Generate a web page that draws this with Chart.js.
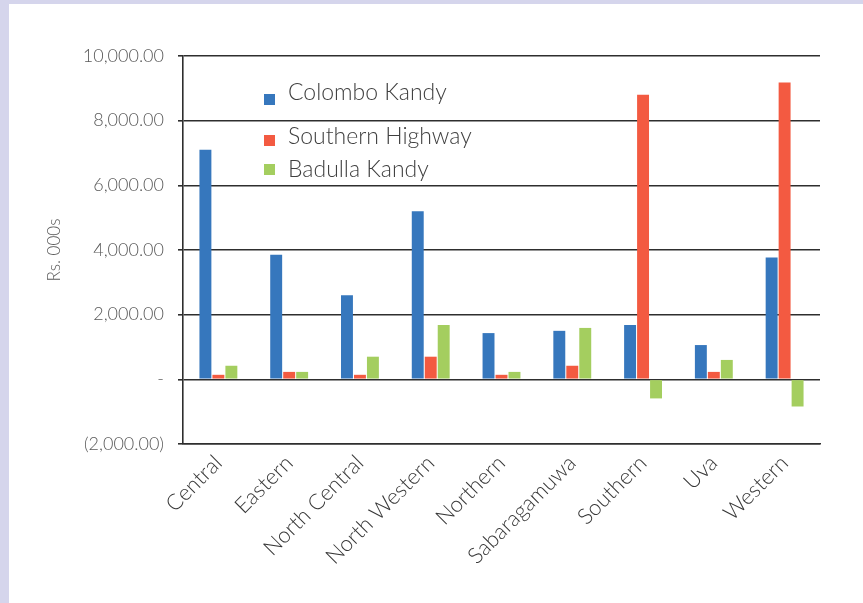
<!DOCTYPE html>
<html>
<head>
<meta charset="utf-8">
<script src="https://cdn.jsdelivr.net/npm/chart.js@4.4.1/dist/chart.umd.min.js"></script>
<style>
    html, body { margin: 0; padding: 0; }
    body { width: 863px; height: 603px; background: #d5d5ec; position: relative; overflow: hidden; }
    #frame { position: absolute; left: 9px; top: 4px; width: 854px; height: 599px; background: #fff; }
</style>
</head>
<body>
<div id="frame"><canvas id="myChart"></canvas></div>
<script>
// --- DATA ---
const provinces = ['Central', 'Eastern', 'North Central', 'North Western', 'Northern',
    'Sabaragamuwa', 'Southern', 'Uva', 'Western'];
const seriesNames = ['Colombo Kandy', 'Southern Highway', 'Badulla Kandy'];
const colomboKandy = [7100, 3850, 2600, 5200, 1430, 1500, 1680, 1060, 3770];
const southernHighway = [140, 230, 140, 700, 140, 420, 8800, 230, 9180];
const badullaKandy = [420, 230, 700, 1680, 230, 1590, -590, 600, -840];
const yMin = -2000, yMax = 10000, yStep = 2000;

const colors = ['#3677bd', '#f35a41', '#a4ce5f'];
const lineColor = '#2e2e2e';
const fontFamily = 'Lato, "Open Sans", sans-serif';

// format ticks like accounting numbers: 0 -> "-", negatives in brackets
function fmtTick(v) {
    if (v === 0) return '-';
    let s = Math.abs(v).toLocaleString('en-US', { minimumFractionDigits: 2, maximumFractionDigits: 2 });
    return v < 0 ? '(' + s + ')' : s;
}

// legend drawn inside the plot, rows at fixed offsets from chart area
const insideLegend = {
    id: 'insideLegend',
    afterDraw(chart) {
        const { ctx, chartArea } = chart;
        const rows = [
            { box: 38, text: 44 },
            { box: 79, text: 88 },
            { box: 108, text: 121 }
        ];
        ctx.save();
        ctx.font = '300 23px ' + fontFamily;
        ctx.textBaseline = 'alphabetic';
        chart.data.datasets.forEach((ds, i) => {
            const r = rows[i];
            ctx.fillStyle = ds.backgroundColor;
            ctx.fillRect(chartArea.left + 81, chartArea.top + r.box, 11, 11);
            ctx.fillStyle = '#404040';
            ctx.fillText(ds.label, chartArea.left + 105, chartArea.top + r.text);
        });
        ctx.restore();
    }
};

const ctx = document.getElementById('myChart').getContext('2d');
const chart = new Chart(ctx, {
    type: 'bar',
    data: {
        labels: provinces,
        datasets: [
            { label: seriesNames[0], data: colomboKandy, backgroundColor: colors[0] },
            { label: seriesNames[1], data: southernHighway, backgroundColor: colors[1] },
            { label: seriesNames[2], data: badullaKandy, backgroundColor: colors[2] }
        ]
    },
    options: {
        responsive: true,
        maintainAspectRatio: false,
        animation: false,
        categoryPercentage: 0.55,
        barPercentage: 0.92,
        layout: { padding: { left: 0, top: 52, right: 43, bottom: 0 } },
        plugins: {
            legend: { display: false },
            tooltip: { enabled: false }
        },
        scales: {
            x: {
                grid: { display: false, drawTicks: false },
                border: { display: true, color: lineColor, width: 1.5 },
                ticks: {
                    minRotation: 45,
                    maxRotation: 45,
                    padding: 6,
                    color: '#383838',
                    font: { family: fontFamily, size: 22, weight: 300 }
                },
                afterFit(scale) { scale.height = 159; }
            },
            y: {
                min: yMin,
                max: yMax,
                grid: { color: lineColor, lineWidth: 1.6, tickLength: 5 },
                border: { display: true, color: lineColor, width: 1.6 },
                ticks: {
                    stepSize: yStep,
                    padding: 14,
                    color: '#595959',
                    font: { family: fontFamily, size: 18, weight: 300 },
                    callback: (v) => fmtTick(v)
                },
                title: {
                    display: true,
                    text: 'Rs. 000s',
                    color: '#595959',
                    font: { family: fontFamily, size: 17, weight: 300 },
                    padding: { top: 35, bottom: 0 }
                },
                afterFit(scale) { scale.width = 174; }
            }
        }
    },
    plugins: [insideLegend]
});
</script>
</body>
</html>
